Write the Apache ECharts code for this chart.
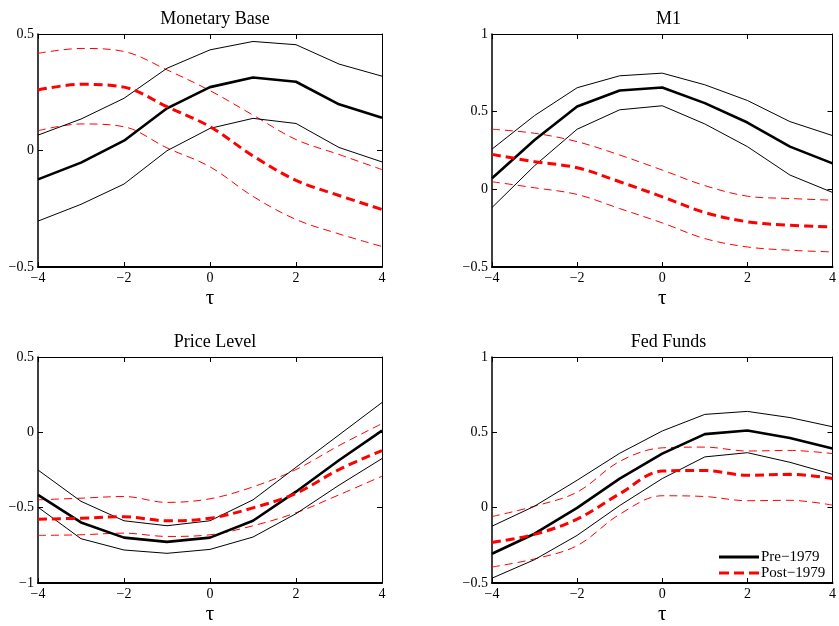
<!DOCTYPE html>
<html>
<head>
<meta charset="utf-8">
<script src="https://cdn.jsdelivr.net/npm/echarts@6/dist/echarts.min.js"></script>
<style>html,body{margin:0;padding:0;background:#fff}#c{width:839px;height:626px}</style>
</head>
<body>
<div id="c"></div>
<script>
// horizon tau
var tau = [-4, -3, -2, -1, 0, 1, 2, 3, 4];
var xTicks = [-4, -2, 0, 2, 4];
var titles = ['Monetary Base', 'M1', 'Price Level', 'Fed Funds'];
var yMin = [-0.5, -0.5, -1, -0.5];
var yMax = [0.5, 1, 0.5, 1];
var yStep = [0.5, 0.5, 0.5, 0.5];
var legendNames = ['Pre\u22121979', 'Post\u22121979'];

// Monetary Base
var mbPre   = [-0.124, -0.052, 0.042, 0.181, 0.272, 0.313, 0.295, 0.198, 0.141];
var mbPreHi = [0.066, 0.135, 0.224, 0.353, 0.432, 0.468, 0.454, 0.371, 0.319];
var mbPreLo = [-0.303, -0.231, -0.144, -0.001, 0.095, 0.138, 0.116, 0.013, -0.049];
var mbPost   = [0.260, 0.284, 0.272, 0.188, 0.102, -0.023, -0.128, -0.193, -0.253];
var mbPostHi = [0.417, 0.438, 0.425, 0.346, 0.257, 0.152, 0.047, -0.017, -0.082];
var mbPostLo = [0.085, 0.114, 0.102, 0.011, -0.070, -0.197, -0.296, -0.358, -0.412];

// M1
var m1Pre   = [0.071, 0.318, 0.533, 0.636, 0.656, 0.555, 0.430, 0.275, 0.167];
var m1PreHi = [0.259, 0.475, 0.654, 0.731, 0.748, 0.673, 0.572, 0.436, 0.346];
var m1PreLo = [-0.117, 0.152, 0.387, 0.512, 0.538, 0.421, 0.275, 0.092, -0.020];
var m1Post   = [0.225, 0.178, 0.139, 0.049, -0.048, -0.149, -0.209, -0.231, -0.242];
var m1PostHi = [0.387, 0.361, 0.307, 0.221, 0.124, 0.024, -0.044, -0.059, -0.070];
var m1PostLo = [0.049, 0.010, -0.033, -0.124, -0.216, -0.317, -0.371, -0.392, -0.403];

// Price Level
var plPre   = [-0.415, -0.598, -0.699, -0.727, -0.699, -0.587, -0.394, -0.185, 0.011];
var plPreHi = [-0.250, -0.458, -0.587, -0.620, -0.587, -0.448, -0.232, -0.017, 0.198];
var plPreLo = [-0.497, -0.706, -0.781, -0.803, -0.777, -0.695, -0.540, -0.351, -0.174];
var plPost   = [-0.577, -0.570, -0.560, -0.587, -0.570, -0.501, -0.405, -0.247, -0.121];
var plPostHi = [-0.448, -0.437, -0.426, -0.465, -0.441, -0.362, -0.247, -0.088, 0.058];
var plPostLo = [-0.684, -0.680, -0.669, -0.691, -0.680, -0.620, -0.534, -0.415, -0.291];

// Fed Funds
var ffPre   = [-0.306, -0.173, -0.001, 0.193, 0.359, 0.488, 0.512, 0.462, 0.393];
var ffPreHi = [-0.123, 0.010, 0.182, 0.361, 0.509, 0.619, 0.639, 0.598, 0.537];
var ffPreLo = [-0.468, -0.345, -0.184, 0.014, 0.193, 0.337, 0.365, 0.301, 0.221];
var ffPost   = [-0.231, -0.177, -0.076, 0.092, 0.243, 0.247, 0.215, 0.221, 0.193];
var ffPostHi = [-0.059, 0.010, 0.103, 0.307, 0.397, 0.402, 0.376, 0.380, 0.359];
var ffPostLo = [-0.394, -0.340, -0.252, -0.044, 0.079, 0.074, 0.046, 0.049, 0.017];

var panels = [
  [mbPre, mbPreHi, mbPreLo, mbPost, mbPostHi, mbPostLo],
  [m1Pre, m1PreHi, m1PreLo, m1Post, m1PostHi, m1PostLo],
  [plPre, plPreHi, plPreLo, plPost, plPostHi, plPostLo],
  [ffPre, ffPreHi, ffPreLo, ffPost, ffPostHi, ffPostLo]
];

var FONT = '"Liberation Serif", "Times New Roman", serif';
var grids = [
  {left: 38, top: 34, width: 344, height: 233},
  {left: 492, top: 34, width: 343, height: 233},
  {left: 38, top: 357, width: 344, height: 232},
  {left: 492, top: 357, width: 343, height: 232}
];

function fmt(v) {
  var s = String(Math.round(v * 100) / 100);
  return s.replace('-', '\u2212');
}
function pairs(ys) { return tau.map(function (t, i) { return [t, ys[i]]; }); }

var xAxes = [], yAxes = [], series = [], titleArr = [];
grids.forEach(function (g, k) {
  xAxes.push({
    gridIndex: k, type: 'value', min: xTicks[0], max: xTicks[xTicks.length - 1], interval: 2,
    position: 'bottom',
    axisLine: {show: true, onZero: false, lineStyle: {color: '#000', width: 2}},
    axisTick: {show: true, inside: true, length: 5, lineStyle: {color: '#000', width: 1}},
    axisLabel: {show: true, color: '#000', fontFamily: FONT, fontSize: 14, margin: 4, formatter: fmt},
    splitLine: {show: false},
    name: '\u03c4', nameLocation: 'middle', nameGap: 21,
    nameTextStyle: {fontFamily: FONT, fontSize: 21, color: '#000'}
  });
  xAxes.push({
    gridIndex: k, type: 'value', min: xTicks[0], max: xTicks[xTicks.length - 1], interval: 2,
    position: 'top',
    axisLine: {show: true, onZero: false, lineStyle: {color: '#000', width: 1}},
    axisTick: {show: true, inside: true, length: 5, lineStyle: {color: '#000', width: 1}},
    axisLabel: {show: false}, splitLine: {show: false}
  });
  yAxes.push({
    gridIndex: k, type: 'value', min: yMin[k], max: yMax[k], interval: yStep[k],
    position: 'left',
    axisLine: {show: true, onZero: false, lineStyle: {color: '#000', width: 1.5}},
    axisTick: {show: true, inside: true, length: 5, lineStyle: {color: '#000', width: 1}},
    axisLabel: {show: true, color: '#000', fontFamily: FONT, fontSize: 14, margin: 4, formatter: fmt},
    splitLine: {show: false}
  });
  yAxes.push({
    gridIndex: k, type: 'value', min: yMin[k], max: yMax[k], interval: yStep[k],
    position: 'right',
    axisLine: {show: true, onZero: false, lineStyle: {color: '#000', width: 1}},
    axisTick: {show: true, inside: true, length: 5, lineStyle: {color: '#000', width: 1}},
    axisLabel: {show: false}, splitLine: {show: false}
  });
  titleArr.push({
    text: titles[k], left: g.left + g.width / 2, top: g.top - 29, textAlign: 'center',
    textStyle: {fontFamily: FONT, fontSize: 18, fontWeight: 'normal', color: '#000'}
  });
  var d = panels[k];
  var specs = [
    {name: legendNames[0], data: d[0], color: '#000', width: 2.6, type: 'solid', smooth: false, z: 5},
    {name: 'preHi' + k, data: d[1], color: '#000', width: 1, type: 'solid', smooth: false, z: 4},
    {name: 'preLo' + k, data: d[2], color: '#000', width: 1, type: 'solid', smooth: false, z: 4},
    {name: legendNames[1], data: d[3], color: '#ff0000', width: 3, type: [9, 5], smooth: 0.35, z: 6},
    {name: 'postHi' + k, data: d[4], color: '#ff0000', width: 1, type: [8, 5], smooth: 0.35, z: 3},
    {name: 'postLo' + k, data: d[5], color: '#ff0000', width: 1, type: [8, 5], smooth: 0.35, z: 3}
  ];
  specs.forEach(function (s) {
    series.push({
      name: s.name, type: 'line', xAxisIndex: 2 * k, yAxisIndex: 2 * k,
      data: pairs(s.data), symbol: 'none', smooth: s.smooth, z: s.z,
      lineStyle: {color: s.color, width: s.width, type: s.type},
      itemStyle: {color: s.color},
      emphasis: {disabled: true}, silent: true, animation: false
    });
  });
});

var chart = echarts.init(document.getElementById('c'), null, {renderer: 'canvas'});
chart.setOption({
  animation: false,
  backgroundColor: '#fff',
  title: titleArr,
  grid: grids.map(function (g) {
    return {left: g.left, top: g.top, width: g.width, height: g.height, show: false, containLabel: false};
  }),
  xAxis: xAxes,
  yAxis: yAxes,
  legend: {
    data: [
      {name: legendNames[0], icon: 'rect'},
      {name: legendNames[1], icon: 'path://M0,0h10v3h-10zM15,0h10v3h-10zM30,0h10v3h-10z'}
    ],
    orient: 'vertical',
    left: 719, top: 549,
    itemWidth: 40, itemHeight: 3, itemGap: 0,
    padding: 0,
    itemStyle: {borderWidth: 0},
    lineStyle: {width: 0},
    textStyle: {fontFamily: FONT, fontSize: 15, color: '#000', padding: [0, 0, 0, -3], lineHeight: 16},
    selectedMode: false
  },
  series: series
});
</script>
</body>
</html>
